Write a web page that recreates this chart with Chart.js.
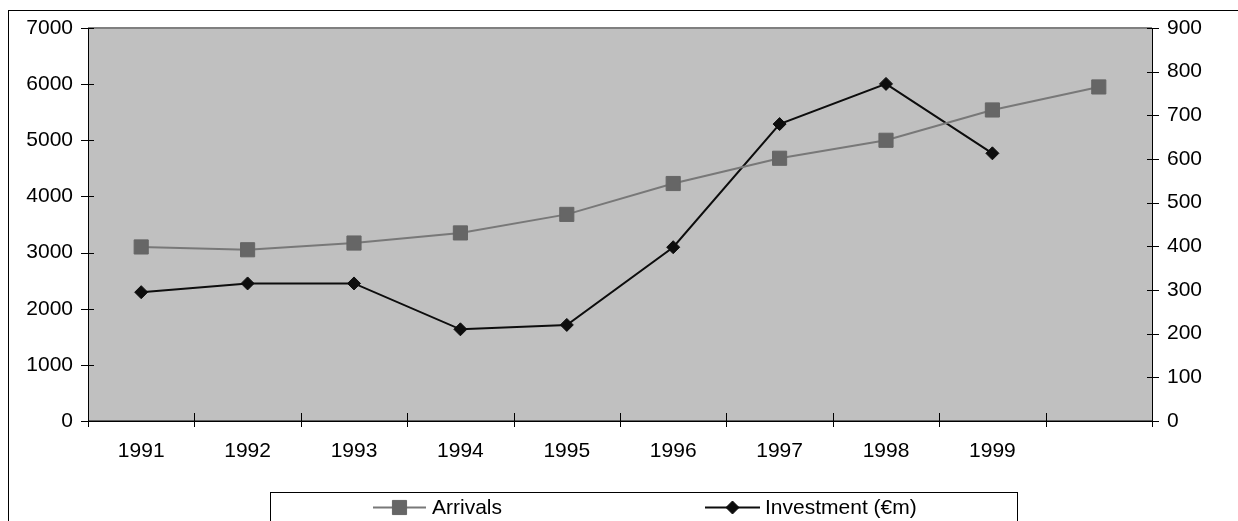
<!DOCTYPE html>
<html>
<head>
<meta charset="utf-8">
<script src="https://cdn.jsdelivr.net/npm/chart.js@4.4.0/dist/chart.umd.min.js"></script>
<style>
  html, body { margin: 0; padding: 0; background: #ffffff; overflow: hidden; }
  #wrap { position: relative; width: 1238px; height: 521px; }
</style>
</head>
<body>
<div id="wrap"><canvas id="chart" width="1238" height="521"></canvas></div>
<script>
// Tourist arrivals and investment, 1991-1999
const years = ['1991', '1992', '1993', '1994', '1995', '1996', '1997', '1998', '1999', ''];
const arrivals = [3100, 3050, 3170, 3350, 3680, 4230, 4680, 5000, 5540, 5950];
const investment = [295, 315, 315, 210, 220, 398, 680, 772, 613, null];
const seriesNames = ['Arrivals', 'Investment (\u20acm)'];
const leftAxisRange = [0, 7000, 1000];
const rightAxisRange = [0, 900, 100];

const FONT = "'Liberation Sans', Arial, sans-serif";
const FONT_SIZE = 21;

// Grey plot background, axes with crossing tick marks, frame and legend box
const frame = {
  id: 'frame',
  beforeDraw(chart) {
    const { ctx, chartArea: a } = chart;
    ctx.save();
    ctx.fillStyle = '#ffffff';
    ctx.fillRect(0, 0, chart.width, chart.height);
    // outer chart border
    ctx.strokeStyle = '#000000';
    ctx.lineWidth = 1;
    ctx.strokeRect(8.5, 10.5, 1400, 700);
    // plot area
    ctx.fillStyle = '#c0c0c0';
    ctx.fillRect(a.left, a.top, a.right - a.left, a.bottom - a.top);
    ctx.strokeStyle = '#808080';
    ctx.lineWidth = 2;
    ctx.beginPath();
    ctx.moveTo(a.left, a.top);
    ctx.lineTo(a.right, a.top);
    ctx.stroke();
    ctx.restore();
  },
  beforeDatasetsDraw(chart) {
    const { ctx, chartArea: a, scales } = chart;
    const x = scales.x, yL = scales.y, yR = scales.y1;
    ctx.save();
    ctx.strokeStyle = '#000000';
    ctx.lineWidth = 1;
    ctx.beginPath();
    // axis lines
    ctx.moveTo(a.left + 0.5, a.top);
    ctx.lineTo(a.left + 0.5, a.bottom);
    ctx.moveTo(a.right + 0.5, a.top);
    ctx.lineTo(a.right + 0.5, a.bottom);
    // left ticks
    yL.ticks.forEach(t => {
      const py = Math.round(yL.getPixelForValue(t.value)) + 0.5;
      ctx.moveTo(a.left - 7, py);
      ctx.lineTo(a.left + 6, py);
    });
    // right ticks
    yR.ticks.forEach(t => {
      const py = Math.round(yR.getPixelForValue(t.value)) + 0.5;
      ctx.moveTo(a.right - 5, py);
      ctx.lineTo(a.right + 7, py);
    });
    // category boundary ticks
    for (let i = 0; i <= years.length; i++) {
      const px = Math.round(x.getPixelForValue(i - 0.5)) + 0.5;
      ctx.moveTo(px, a.bottom - 8);
      ctx.lineTo(px, a.bottom + 6);
    }
    ctx.stroke();
    // bottom axis
    ctx.lineWidth = 1.5;
    ctx.beginPath();
    ctx.moveTo(a.left, a.bottom + 0.25);
    ctx.lineTo(a.right + 1, a.bottom + 0.25);
    ctx.stroke();
    ctx.restore();
  },
  afterDraw(chart) {
    const { ctx } = chart;
    ctx.save();
    // legend box
    ctx.strokeStyle = '#000000';
    ctx.lineWidth = 1;
    ctx.strokeRect(270.5, 492.5, 747, 100);
    const items = [
      { ds: chart.data.datasets[0], x0: 373, x1: 426, tx: 432 },
      { ds: chart.data.datasets[1], x0: 705, x1: 760, tx: 765 }
    ];
    const cy = 507.5;
    items.forEach(it => {
      const ds = it.ds;
      ctx.strokeStyle = ds.borderColor;
      ctx.lineWidth = ds.borderWidth;
      ctx.beginPath();
      ctx.moveTo(it.x0, cy);
      ctx.lineTo(it.x1, cy);
      ctx.stroke();
      ctx.fillStyle = ds.pointBackgroundColor;
      ctx.strokeStyle = ds.pointBorderColor;
      ctx.lineWidth = ds.pointBorderWidth;
      Chart.helpers.drawPoint(ctx, {
        pointStyle: ds.pointStyle,
        radius: ds.pointRadius,
        rotation: 0,
        borderWidth: ds.pointBorderWidth
      }, (it.x0 + it.x1) / 2, cy);
      ctx.fillStyle = '#000000';
      ctx.font = FONT_SIZE + 'px ' + FONT;
      ctx.textBaseline = 'middle';
      ctx.textAlign = 'left';
      ctx.fillText(ds.label, it.tx, cy + 1);
    });
    ctx.restore();
  }
};

const plainNumber = v => String(v);

new Chart(document.getElementById('chart'), {
  type: 'line',
  data: {
    labels: years,
    datasets: [
      {
        label: seriesNames[0],
        data: arrivals,
        yAxisID: 'y',
        borderColor: '#787878',
        borderWidth: 2,
        pointStyle: 'rect',
        pointRadius: 10,
        pointHoverRadius: 10,
        pointBackgroundColor: '#666666',
        pointBorderColor: '#666666',
        pointBorderWidth: 1,
        tension: 0
      },
      {
        label: seriesNames[1],
        data: investment,
        yAxisID: 'y1',
        borderColor: '#0d0d0d',
        borderWidth: 2,
        pointStyle: 'rectRot',
        pointRadius: 6.5,
        pointHoverRadius: 6.5,
        pointBackgroundColor: '#0d0d0d',
        pointBorderColor: '#0d0d0d',
        pointBorderWidth: 1,
        tension: 0
      }
    ]
  },
  options: {
    responsive: false,
    animation: false,
    devicePixelRatio: 1,
    events: [],
    layout: { padding: { top: 28, left: 0, right: 0, bottom: 0 } },
    plugins: { legend: { display: false }, tooltip: { enabled: false } },
    scales: {
      x: {
        offset: true,
        grid: { display: false, drawTicks: false },
        border: { display: false },
        ticks: {
          color: '#000000',
          font: { family: FONT, size: FONT_SIZE },
          padding: 18,
          maxRotation: 0,
          autoSkip: false
        },
        afterFit(s) { s.height = 100; }
      },
      y: {
        position: 'left',
        min: leftAxisRange[0],
        max: leftAxisRange[1],
        grid: { display: false, drawTicks: false },
        border: { display: false },
        ticks: {
          stepSize: leftAxisRange[2],
          color: '#000000',
          font: { family: FONT, size: FONT_SIZE },
          padding: 15,
          callback: plainNumber
        },
        afterFit(s) { s.width = 88; }
      },
      y1: {
        position: 'right',
        min: rightAxisRange[0],
        max: rightAxisRange[1],
        grid: { display: false, drawTicks: false },
        border: { display: false },
        ticks: {
          stepSize: rightAxisRange[2],
          color: '#000000',
          font: { family: FONT, size: FONT_SIZE },
          padding: 15,
          callback: plainNumber
        },
        afterFit(s) { s.width = 86; }
      }
    }
  },
  plugins: [frame]
});
</script>
</body>
</html>
